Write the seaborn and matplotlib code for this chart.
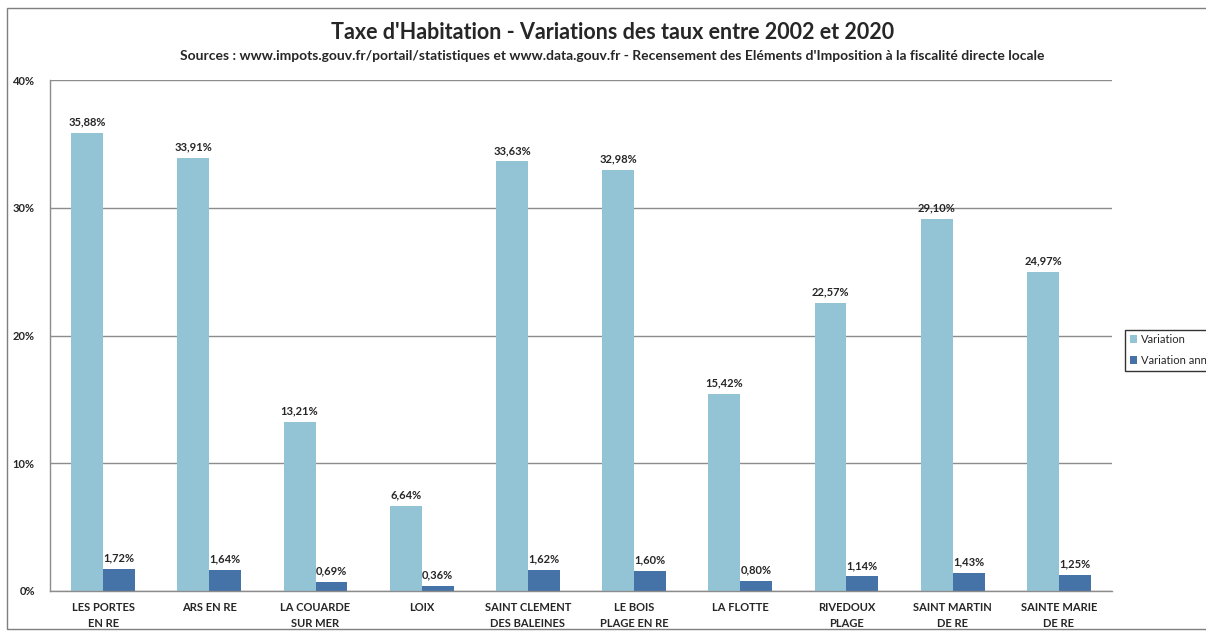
import pandas as pd
import matplotlib.pyplot as plt
import seaborn as sns
from matplotlib.patches import Rectangle
from matplotlib.ticker import FuncFormatter, FixedLocator

# Données
communes = ["LES PORTES\nEN RE", "ARS EN RE", "LA COUARDE\nSUR MER", "LOIX",
            "SAINT CLEMENT\nDES BALEINES", "LE BOIS\nPLAGE EN RE", "LA FLOTTE",
            "RIVEDOUX\nPLAGE", "SAINT MARTIN\nDE RE", "SAINTE MARIE\nDE RE"]
variation = [35.88, 33.91, 13.21, 6.64, 33.63, 32.98, 15.42, 22.57, 29.10, 24.97]
variation_annuelle = [1.72, 1.64, 0.69, 0.36, 1.62, 1.60, 0.80, 1.14, 1.43, 1.25]
series = ["Variation", "Variation annuelle"]


def main():
    df = pd.DataFrame({
        "commune": communes * 2,
        "valeur": variation + variation_annuelle,
        "serie": [series[0]] * len(communes) + [series[1]] * len(communes),
    })

    sns.set_style("white")
    plt.rcParams["font.family"] = ["Lato", "DejaVu Sans"]

    fig = plt.figure(figsize=(12.06, 6.31), dpi=100)
    ax = fig.add_axes([0.0415, 0.0634, 0.8805, 0.8096])

    sns.barplot(data=df, x="commune", y="valeur", hue="serie",
                palette=["#93C4D6", "#4673A7"], width=0.6, saturation=1,
                linewidth=0, edgecolor="none", ax=ax, legend=True)

    # étiquettes de valeurs au-dessus des barres
    for cont in ax.containers:
        labels = [f"{b.get_height():.2f}".replace(".", ",") + "%" for b in cont]
        ax.bar_label(cont, labels=labels, padding=4, fontsize=8, fontweight="bold")

    ax.set_ylim(0, 40)
    ax.set_yticks([0, 10, 20, 30, 40])
    ax.yaxis.set_major_formatter(FuncFormatter(lambda v, p: f"{v:.0f}%"))
    ax.grid(axis="y", color="#8c8c8c", linewidth=1)
    ax.set_axisbelow(True)
    ax.set_xlim(-0.5, len(communes) - 0.5)
    ax.set_xlabel("")
    ax.set_ylabel("")

    for s in ["top", "right"]:
        ax.spines[s].set_visible(False)
    for s in ["left", "bottom"]:
        ax.spines[s].set_color("#8c8c8c")
        ax.spines[s].set_linewidth(1)

    # graduations x entre les catégories
    ax.xaxis.set_minor_locator(FixedLocator([i - 0.5 for i in range(len(communes) + 1)]))
    ax.tick_params(axis="x", which="major", length=0, pad=8)
    ax.tick_params(axis="x", which="minor", length=5, color="#8c8c8c", width=1)
    ax.tick_params(axis="y", length=5, color="#8c8c8c", width=1, pad=6)
    for lab in ax.get_xticklabels():
        lab.set_fontsize(8)
        lab.set_fontweight("bold")
        lab.set_linespacing(1.5)
    for lab in ax.get_yticklabels():
        lab.set_fontsize(8)
        lab.set_fontweight("bold")

    # légende coupée au bord droit, comme dans l'original
    leg = ax.legend(loc="center left", bbox_to_anchor=(0.933, 0.445),
                    bbox_transform=fig.transFigure, fontsize=8, frameon=True,
                    fancybox=False, edgecolor="black", handlelength=0.7,
                    handleheight=0.7, handletextpad=0.3, labelspacing=0.9,
                    borderaxespad=0)
    leg.get_frame().set_linewidth(1)

    fig.text(0.508, 0.949, "Taxe d'Habitation - Variations des taux entre 2002 et 2020",
             ha="center", va="center", fontsize=15.5, fontweight="bold")
    fig.text(0.508, 0.912, "Sources : www.impots.gouv.fr/portail/statistiques et www.data.gouv.fr"
             " - Recensement des Eléments d'Imposition à la fiscalité directe locale",
             ha="center", va="center", fontsize=10, fontweight="bold")

    # cadre du graphique
    fig.patches.append(Rectangle((0.006, 0.003), 1.2, 0.984, transform=fig.transFigure,
                                 fill=False, edgecolor="#7f7f7f", linewidth=1))

    fig.savefig("out.png", dpi=100)
    plt.close(fig)


if __name__ == "__main__":
    main()
